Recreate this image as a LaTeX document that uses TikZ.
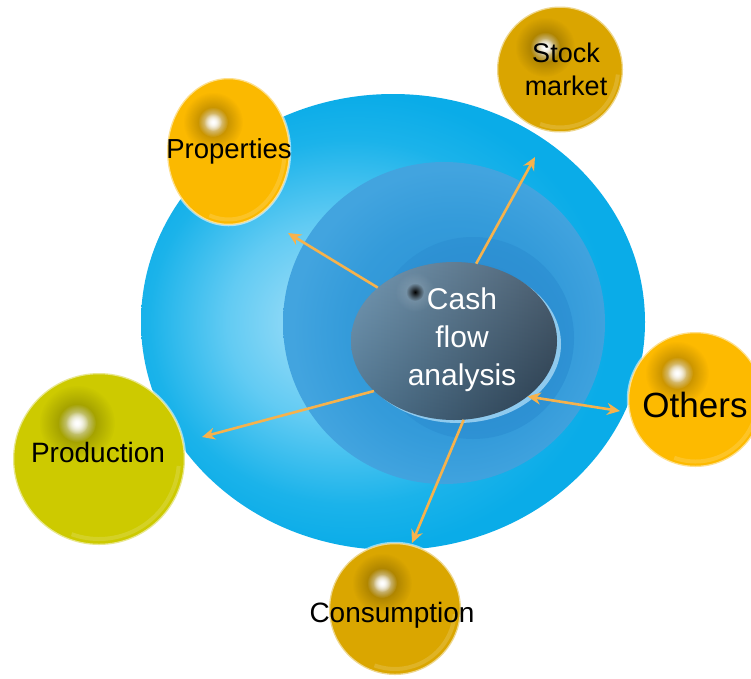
\documentclass[tikz,border=0pt]{standalone}
\usepackage{fontspec}
\setmainfont{Liberation Sans}
\usetikzlibrary{shapes.geometric,arrows.meta,fadings}

\definecolor{blA}{HTML}{A3DFF8}
\definecolor{blB}{HTML}{62CBF3}
\definecolor{blC}{HTML}{1BB3EA}
\definecolor{blD}{HTML}{0AACE8}
\definecolor{mbA}{HTML}{2A8FD4}
\definecolor{mbB}{HTML}{349BDA}
\definecolor{mbC}{HTML}{42A4DF}
\definecolor{ibA}{HTML}{2888CE}
\definecolor{ibB}{HTML}{2E92D4}
\definecolor{rimc}{HTML}{8FCAEE}
\definecolor{cfL}{HTML}{5E89A8}
\definecolor{cfM}{HTML}{496C88}
\definecolor{cfR}{HTML}{30465A}
\definecolor{stockc}{HTML}{DAA500}
\definecolor{propc}{HTML}{FBB900}
\definecolor{othc}{HTML}{FDBA00}
\definecolor{prodc}{HTML}{CDCA00}
\definecolor{consc}{HTML}{DAA600}
\definecolor{arrowc}{HTML}{F6B24C}

\pgfdeclareradialshading{bigblue}{\pgfpoint{-7bp}{0bp}}{color(0bp)=(blA); color(11bp)=(blB); color(20bp)=(blC); color(25bp)=(blD); color(50bp)=(blD)}
\pgfdeclareradialshading{midblue}{\pgfpoint{3bp}{-2bp}}{color(0bp)=(mbA); color(17bp)=(mbB); color(25bp)=(mbC); color(50bp)=(mbC)}
\pgfdeclareradialshading{inblue}{\pgfpoint{0bp}{0bp}}{color(0bp)=(ibA); color(25bp)=(ibB); color(50bp)=(ibB)}

\tikzfading[name=spotfade, inner color=transparent!0, outer color=transparent!100]

\begin{document}
\begin{tikzpicture}[x=1pt,y=-1pt,
  ball/.style={inner sep=0pt, draw=white, draw opacity=0.55, line width=2.5pt},
  gloss/.style={draw=white, opacity=0.15, line width=4pt},
  lbl/.style={inner sep=0pt, anchor=base, text=black},
  flow/.style={draw=arrowc, line width=2.6pt, -{Stealth[length=13pt,width=12pt]}},
  both/.style={draw=arrowc, line width=2.6pt, {Stealth[length=13pt,width=12pt]}-{Stealth[length=13pt,width=12pt]}}
]
\useasboundingbox (0,0) rectangle (751,678);
\fill[white] (0,0) rectangle (751,678);
\clip (0,0) rectangle (751,678);

% concentric blue discs
\node[ellipse, shade, shading=bigblue, inner sep=0pt, minimum width=504pt, minimum height=456pt] (outer) at (393,322) {};
\node[circle, shade, shading=midblue, inner sep=0pt, minimum size=322pt] (ring2) at (444,323) {};
\node[circle, shade, shading=inblue, inner sep=0pt, minimum size=202pt] (ring3) at (473,338) {};

% satellite balls
\node[ball, circle, fill=stockc, minimum size=126pt] (stock) at (560,69.5) {};
\node[ball, ellipse, fill=propc, minimum width=123pt, minimum height=147pt] (prop) at (228.5,151.5) {};
\node[ball, circle, fill=othc, minimum size=135pt] (oth) at (695.5,399.5) {};
\node[ball, circle, fill=prodc, minimum size=172pt] (prod) at (99,459) {};
\node[ball, circle, fill=consc, minimum size=132pt] (cons) at (395,609) {};

% gloss rims
\draw[gloss] (stock.center) ++(5:58) arc[start angle=5, end angle=110, radius=58];
\draw[gloss] (prop.center) ++(5:56 and 68) arc[start angle=5, end angle=110, x radius=56, y radius=68];
\draw[gloss] (oth.center) ++(5:62) arc[start angle=5, end angle=110, radius=62];
\draw[gloss] (prod.center) ++(5:80) arc[start angle=5, end angle=110, radius=80];
\draw[gloss] (cons.center) ++(5:60) arc[start angle=5, end angle=110, radius=60];

% highlights
\foreach \x/\y/\r in {545/47/30, 213/122/30, 677/373/32, 77/423/38, 382/583/30}{
  \fill[black, opacity=0.38, path fading=spotfade] (\x,\y) circle (\r);
  \fill[white, path fading=spotfade] (\x,\y) circle ({0.5*\r});
  \fill[white, path fading=spotfade] (\x,\y) circle ({0.3*\r});
}

% central ellipse
\node[ellipse, fill=rimc, inner sep=0pt, minimum width=206pt, minimum height=158pt] (rim) at (458,344) {};
\node[ellipse, shade, left color=cfL, middle color=cfM, right color=cfR, inner sep=0pt, minimum width=206pt, minimum height=158pt] (cfa) at (454,341) {};
\shade[top color=black!0, bottom color=black, opacity=0.15] (454,341) ellipse [x radius=103, y radius=79];
\fill[white, opacity=0.2, path fading=spotfade] (415,292) circle (20);
\fill[black, path fading=spotfade] (415,292) circle (9);

% labels
\node[lbl, font=\fontsize{27}{33}\selectfont, anchor=center, align=center] (stockt) at (566,69) {Stock\\market};
\node[lbl, font=\fontsize{27.5}{33}\selectfont] (propt) at (229,158) {Properties};
\node[lbl, font=\fontsize{35}{40}\selectfont] (otht) at (695,417) {Others};
\node[lbl, font=\fontsize{28}{33}\selectfont] (prodt) at (98,462) {Production};
\node[lbl, font=\fontsize{28}{33}\selectfont] (const) at (392,622) {Consumption};
\node[inner sep=0pt, text=white, font=\fontsize{30}{38}\selectfont, align=center] (cfat) at (462,339.5) {Cash\\flow\\analysis};

% connectors
\coordinate (t1) at (535,157);
\coordinate (t2) at (288,233);
\coordinate (t3) at (202,437);
\coordinate (t4) at (412,543);
\coordinate (t5) at (620,411);
\draw[flow] (cfa.74) -- (t1);
\draw[flow] (cfa.145) -- (t2);
\draw[flow] (cfa.212) -- (t3);
\draw[flow] (cfa.277) -- (t4);
\draw[both] (cfa.-37) -- (t5);
\end{tikzpicture}
\end{document}
